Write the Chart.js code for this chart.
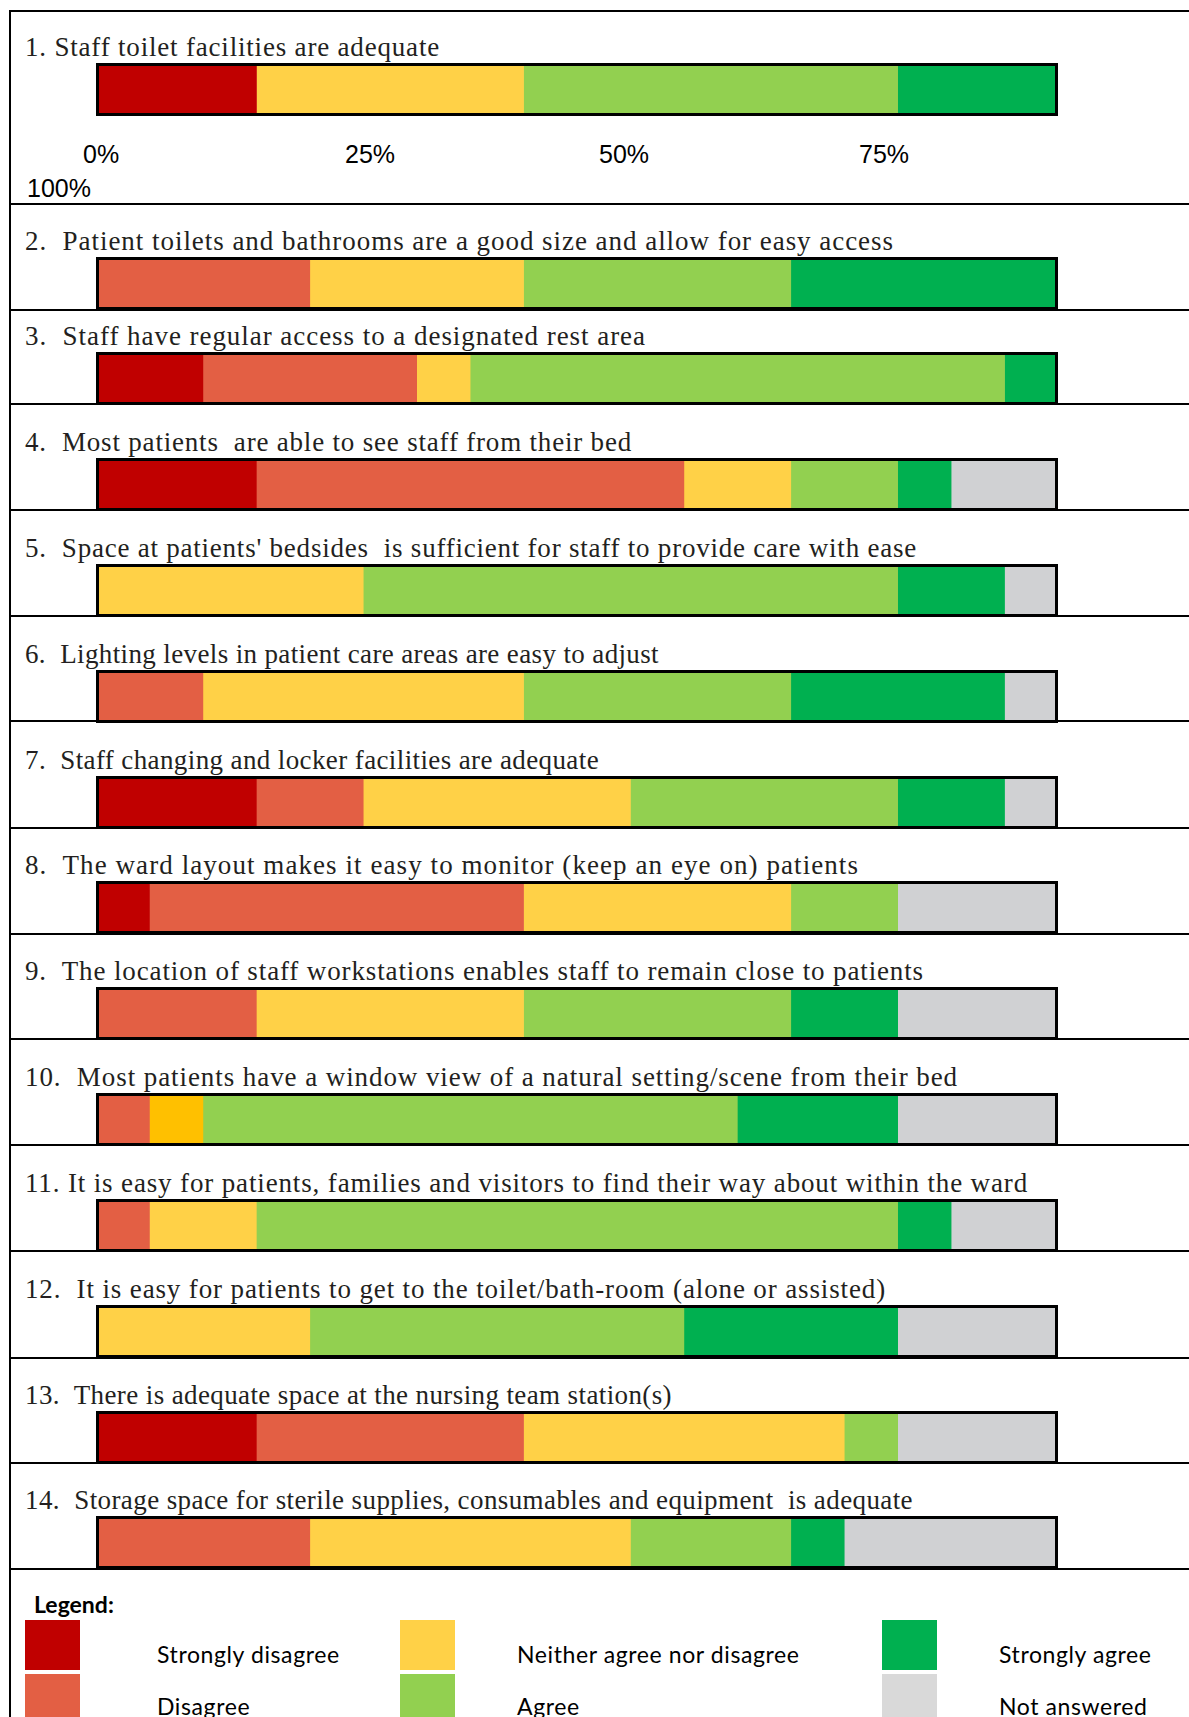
<!DOCTYPE html>
<html>
<head>
<meta charset="utf-8">
<script src="https://cdn.jsdelivr.net/npm/chart.js@4.4.1/dist/chart.umd.min.js"></script>
<style>
  body { margin:0; background:#fff; }
  #page { position:relative; width:1189px; height:1717px; overflow:hidden; background:#fff; }
  .line { position:absolute; background:#000; }
  .q { position:absolute; left:25px; font:27px "Liberation Serif", serif; color:#231f20; white-space:pre; line-height:normal; }
  .tick { position:absolute; font:25px "Liberation Sans", Arial, sans-serif; color:#000; white-space:pre; line-height:normal; }
  .leg { position:absolute; font:23px Lato, sans-serif; letter-spacing:0.6px; color:#000; white-space:pre; line-height:normal; }
  .sw { position:absolute; width:55px; height:50px; }
  canvas { position:absolute; }
</style>
</head>
<body>
<div id="page"></div>
<script>
// answer categories (stack order, left to right)
var categories = ['Strongly disagree', 'Disagree', 'Neither agree nor disagree', 'Agree', 'Strongly agree', 'Not answered'];

var questions = [
  '1. Staff toilet facilities are adequate',
  '2.  Patient toilets and bathrooms are a good size and allow for easy access',
  '3.  Staff have regular access to a designated rest area',
  '4.  Most patients  are able to see staff from their bed',
  "5.  Space at patients' bedsides  is sufficient for staff to provide care with ease",
  '6.  Lighting levels in patient care areas are easy to adjust',
  '7.  Staff changing and locker facilities are adequate',
  '8.  The ward layout makes it easy to monitor (keep an eye on) patients',
  '9.  The location of staff workstations enables staff to remain close to patients',
  '10.  Most patients have a window view of a natural setting/scene from their bed',
  '11. It is easy for patients, families and visitors to find their way about within the ward',
  '12.  It is easy for patients to get to the toilet/bath-room (alone or assisted)',
  '13.  There is adequate space at the nursing team station(s)',
  '14.  Storage space for sterile supplies, consumables and equipment  is adequate'
];

// number of respondents per answer, one value per question
var stronglyDisagree = [3, 0, 2, 3, 0, 0, 3, 1, 0, 0, 0, 0, 3, 0];
var disagree         = [0, 4, 4, 8, 0, 2, 2, 7, 3, 1, 1, 0, 5, 4];
var neither          = [5, 4, 1, 2, 5, 6, 5, 5, 5, 1, 2, 4, 6, 6];
var agree            = [7, 5, 10, 2, 10, 5, 5, 2, 5, 10, 12, 7, 1, 3];
var stronglyAgree    = [3, 5, 1, 1, 2, 4, 2, 0, 2, 3, 1, 4, 0, 1];
var notAnswered      = [0, 0, 0, 2, 1, 1, 1, 3, 3, 3, 2, 3, 3, 4];
var respondents = 18;

var tickLabels = ['0%', '25%', '50%', '75%', '100%'];

// ---- styling / layout ----
var colours = ['#C00000', '#E35F44', '#FFD147', '#92D050', '#00B050', '#D0D1D3'];
var legendColours = ['#C00000', '#E35F44', '#FFD147', '#92D050', '#00B050', '#D9D9D9'];
var rowLines = [11, 204, 310, 404, 510, 616, 721, 828, 934, 1039, 1145, 1251, 1358, 1463, 1569];
var barTops = [63, 257, 352, 458, 564, 670, 776, 881, 987, 1093, 1199, 1305, 1411, 1516];
var textEnds = [440, 894, 646, 632, 917, 659, 599, 859, 924, 958, 1028, 886, 672, 913];
var tickPos = [[83, 163], [345, 163], [599, 163], [859, 163], [27, 197]];

var page = document.getElementById('page');

function el(cls, css, text) {
  var d = document.createElement('div');
  d.className = cls;
  Object.assign(d.style, css);
  if (text !== undefined) d.textContent = text;
  page.appendChild(d);
  return d;
}

// frame
el('line', {left:'9px', top:'10px', width:'2px', height:'1707px'});
rowLines.forEach(function (y) {
  el('line', {left:'9px', top:(y - 1) + 'px', width:'1180px', height:'2px'});
});

var outline = {
  id: 'outline',
  afterDatasetsDraw: function (chart) {
    var ctx = chart.ctx, a = chart.chartArea;
    ctx.save();
    ctx.strokeStyle = '#000';
    ctx.lineWidth = 3;
    ctx.strokeRect(a.left + 1.5, a.top + 1.5, a.right - a.left - 3, a.bottom - a.top - 3);
    ctx.restore();
  }
};

var series = [stronglyDisagree, disagree, neither, agree, stronglyAgree, notAnswered];

questions.forEach(function (q, i) {
  // question text, letter-spaced to the width it has in the original
  var t = el('q', {top:(barTops[i] - 7 - Math.round(0.891 * 27)) + 'px'}, q);
  var w = t.getBoundingClientRect().width;
  t.style.letterSpacing = ((textEnds[i] - 25 - w) / q.length) + 'px';

  var c = document.createElement('canvas');
  c.width = 962; c.height = 53;
  c.style.left = '96px'; c.style.top = barTops[i] + 'px';
  page.appendChild(c);

  new Chart(c, {
    type: 'bar',
    data: {
      labels: [q],
      datasets: series.map(function (s, k) {
        return {
          label: categories[k],
          data: [s[i]],
          backgroundColor: (k === 2 && i === 9) ? '#FFC000' : colours[k],
          borderWidth: 0,
          barPercentage: 1,
          categoryPercentage: 1
        };
      })
    },
    options: {
      indexAxis: 'y',
      responsive: false,
      animation: false,
      events: [],
      layout: { padding: 0 },
      scales: {
        x: { stacked: true, min: 0, max: respondents, display: false },
        y: { stacked: true, display: false }
      },
      plugins: { legend: { display: false }, tooltip: { enabled: false } }
    },
    plugins: [outline]
  });
});

// the stray axis labels under question 1
tickLabels.forEach(function (lab, j) {
  el('tick', {left:tickPos[j][0] + 'px', top:(tickPos[j][1] - Math.round(0.905 * 25)) + 'px'}, lab);
});

// legend
el('leg', {left:'34px', top:(1613 - 23) + 'px', fontWeight:'700', fontSize:'23px', letterSpacing:'0px'}, 'Legend:');
var legCols = [[25, 157], [400, 517], [882, 999]];
categories.forEach(function (name, k) {
  var col = legCols[Math.floor(k / 2)], row = k % 2;
  el('sw', {left:col[0] + 'px', top:(1620 + row * 54) + 'px', background:legendColours[k]});
  el('leg', {left:col[1] + 'px', top:(1663 + row * 52 - 23) + 'px'}, name);
});
</script>
</body>
</html>
